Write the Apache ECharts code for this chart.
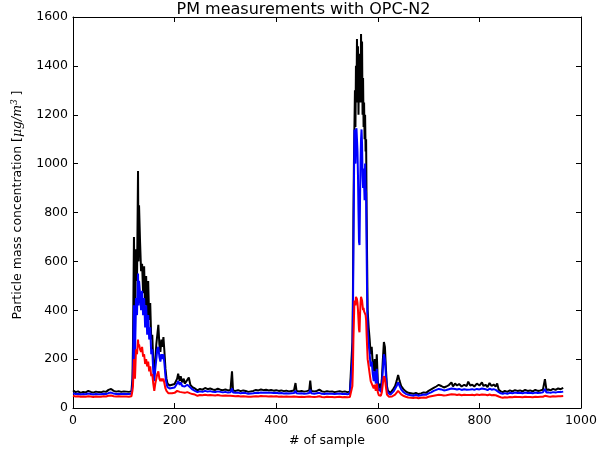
<!DOCTYPE html>
<html>
<head>
<meta charset="utf-8">
<script src="https://cdn.jsdelivr.net/npm/echarts@6/dist/echarts.min.js"></script>
<style>html,body{margin:0;padding:0;background:#fff;}#c{width:607px;height:453px;}</style>
</head>
<body>
<div id="c"></div>
<script>
const sampleIdx = [0,5,10,15,20,25,30,35,40,45,50,55,60,65,70,75,80,85,90,95,100,105,110,115,117,118,120,122,124,126,128,129,130,132,134,136,138,140,142,144,146,148,150,152,154,156,158,160,162,164,166,168,170,172,174,176,178,180,182,184,186,188,190,195,200,205,207,210,212,215,218,220,225,228,231,235,240,245,250,255,260,265,270,275,280,285,290,295,300,305,310,313,315,320,325,330,335,340,345,350,355,360,365,370,375,380,385,390,395,400,405,410,415,420,425,430,435,438,440,445,450,455,460,465,467,469,475,480,485,490,495,500,505,510,515,520,525,530,535,540,545,548,550,551,552,553,554,555,556,557,558,559,560,561,562,563,564,565,566,567,568,569,570,571,572,573,574,575,576,577,578,579,580,582,584,586,588,590,592,594,596,598,600,602,604,606,608,610,612,614,616,618,620,622,625,628,631,634,637,640,643,646,650,655,660,665,670,675,680,685,690,695,700,705,710,715,720,725,730,735,740,745,748,752,756,760,765,770,775,778,782,786,790,795,800,805,808,812,816,820,824,828,832,835,838,842,846,850,855,860,865,870,875,880,885,890,895,900,905,910,915,920,925,929,932,936,940,945,950,955,960,965];
const pm10 = [72,65,68,62,66,64,70,66,63,67,65,64,68,66,74,78,70,67,69,66,68,67,66,68,120,250,700,300,650,520,970,600,830,680,560,590,470,580,420,540,380,520,360,430,280,300,190,140,200,260,300,340,260,230,280,250,290,230,160,120,100,95,92,95,98,120,140,110,130,105,120,100,115,125,95,85,80,72,78,75,82,77,80,76,74,79,75,73,76,72,74,150,72,70,73,69,72,70,66,68,70,74,72,76,73,75,72,74,71,73,70,72,69,71,68,70,72,102,70,68,70,67,69,72,112,70,68,70,75,68,66,69,67,68,65,67,69,66,68,65,67,68,270,450,780,1000,1150,1300,1150,1400,1250,1510,1350,1480,1200,1420,1300,1450,1250,1530,1350,1500,1200,1350,1150,1250,1100,1200,1050,1100,800,600,400,330,280,220,250,180,150,200,130,220,110,80,100,75,120,200,270,250,160,90,70,65,62,70,80,90,110,135,110,90,78,68,62,60,58,62,57,60,64,62,70,76,82,88,95,90,84,88,94,105,88,100,92,98,88,95,90,108,92,95,88,100,92,105,90,95,86,102,90,96,88,100,75,68,65,70,66,72,68,73,70,72,68,74,70,72,68,74,70,72,75,118,74,76,72,78,74,80,77,82];
const pm25 = [60,57,58,55,57,56,59,57,55,57,56,56,58,57,61,63,59,57,58,57,58,57,57,58,90,150,420,200,450,380,550,420,520,470,400,480,380,450,330,420,300,380,280,330,220,240,150,110,160,200,240,250,210,190,220,200,220,180,130,100,85,82,80,82,84,100,110,95,105,90,98,88,95,100,84,76,70,65,68,66,70,67,69,66,65,68,66,64,66,63,64,80,63,62,63,60,62,61,58,59,60,62,61,63,62,63,62,62,61,62,60,61,59,60,59,60,61,70,60,59,60,58,59,61,75,60,58,60,62,58,57,59,58,58,57,58,59,57,58,56,58,58,200,350,650,900,1140,1100,1000,1130,1145,1100,1050,950,800,680,667,850,1000,1100,1140,1080,950,900,980,920,850,1000,900,880,650,450,320,260,220,170,190,140,110,150,100,160,90,70,80,65,95,160,220,200,130,75,62,58,55,60,68,75,90,105,90,76,66,58,54,52,50,54,50,52,55,54,60,64,70,74,78,76,72,74,77,80,74,78,76,78,74,77,75,82,76,77,74,78,76,80,75,77,73,79,75,77,74,76,65,60,58,61,58,62,60,63,61,62,60,63,61,62,60,63,61,62,64,78,63,64,62,65,63,66,65,67];
const pm1 = [50,47,48,46,47,46,48,47,45,47,46,46,48,47,50,51,48,47,48,47,47,47,46,48,70,90,200,120,240,220,280,250,260,240,230,250,210,220,180,200,170,190,150,170,130,140,100,70,100,120,140,150,120,110,120,110,120,100,80,70,62,60,60,60,62,70,75,66,72,64,68,62,65,68,60,57,55,50,53,52,54,52,53,52,51,53,51,50,51,50,50,55,49,48,49,47,48,47,46,46,47,48,47,49,48,48,47,48,47,48,46,47,46,47,46,46,47,50,46,45,46,45,46,47,52,46,45,46,48,45,44,46,45,45,44,45,46,44,45,44,45,46,90,160,280,360,440,430,420,455,462,445,430,400,360,320,310,380,430,455,450,440,420,400,410,395,390,400,380,360,300,250,200,170,140,110,115,90,80,95,70,100,65,52,58,50,65,100,130,120,85,55,48,46,45,47,52,55,62,70,62,56,50,46,43,42,41,43,40,42,43,42,46,48,50,52,54,53,51,52,54,56,53,55,53,55,52,54,53,56,53,54,52,55,53,55,52,54,52,55,52,53,52,53,47,44,42,44,43,45,44,46,45,45,44,46,45,45,44,46,45,46,46,50,46,47,46,48,47,48,48,49];
const xTicks = [0,200,400,600,800,1000];
const yTicks = [0,200,400,600,800,1000,1200,1400,1600];

const pairs = arr => sampleIdx.map((x,i)=>[x,arr[i]]);
const chart = echarts.init(document.getElementById('c'), null, {renderer:'canvas'});
const FONT = 'DejaVu Sans';
const plain = v => String(v);
const axBase = {
  type:'value', splitLine:{show:false},
  axisLine:{show:true, onZero:false, lineStyle:{color:'#000', width:1}},
  axisTick:{show:true, inside:true, length:5, lineStyle:{color:'#000', width:1}}
};
chart.setOption({
  animation:false,
  backgroundColor:'#fff',
  title:{text:'PM measurements with OPC-N2', left:'center', top:-3,
    textStyle:{fontFamily:FONT, fontSize:16, fontWeight:'normal', color:'#000'}},
  grid:{left:73, right:26, top:17, bottom:45},
  xAxis:[
    Object.assign({}, axBase, {min:xTicks[0], max:xTicks[xTicks.length-1], interval:200, position:'bottom',
      name:'# of sample', nameLocation:'middle', nameGap:26,
      nameTextStyle:{fontFamily:FONT, fontSize:12.5, color:'#000'},
      axisLabel:{fontFamily:FONT, fontSize:12.5, color:'#000', margin:6, formatter:plain}}),
    Object.assign({}, axBase, {min:xTicks[0], max:xTicks[xTicks.length-1], interval:200, position:'top', axisLabel:{show:false}})
  ],
  yAxis:[
    Object.assign({}, axBase, {min:yTicks[0], max:yTicks[yTicks.length-1], interval:200, position:'left',
      axisLabel:{fontFamily:FONT, fontSize:12.5, color:'#000', margin:5, formatter:plain}}),
    Object.assign({}, axBase, {min:yTicks[0], max:yTicks[yTicks.length-1], interval:200, position:'right', axisLabel:{show:false}})
  ],
  graphic:[{
    type:'text', x:18, y:205, rotation:Math.PI/2,
    style:{
      text:'{n|Particle mass concentration [}{i|μg/m}{s|3}{n| ]}',
      textAlign:'center', textVerticalAlign:'middle',
      rich:{
        n:{fontFamily:FONT, fontSize:12.5, fill:'#000'},
        i:{fontFamily:'DejaVu Serif', fontStyle:'italic', fontSize:12.5, fill:'#000'},
        s:{fontFamily:'DejaVu Serif', fontStyle:'italic', fontSize:8.5, fill:'#000', verticalAlign:'top', padding:[0,0,6,0]}
      }
    }
  }],
  series:[
    {name:'PM10', type:'line', data:pairs(pm10), showSymbol:false, lineStyle:{color:'#000000', width:2}, itemStyle:{color:'#000'}},
    {name:'PM2.5', type:'line', data:pairs(pm25), showSymbol:false, lineStyle:{color:'#0000ff', width:2}, itemStyle:{color:'#00f'}},
    {name:'PM1', type:'line', data:pairs(pm1), showSymbol:false, lineStyle:{color:'#ff0000', width:2}, itemStyle:{color:'#f00'}}
  ]
});
</script>
</body>
</html>
